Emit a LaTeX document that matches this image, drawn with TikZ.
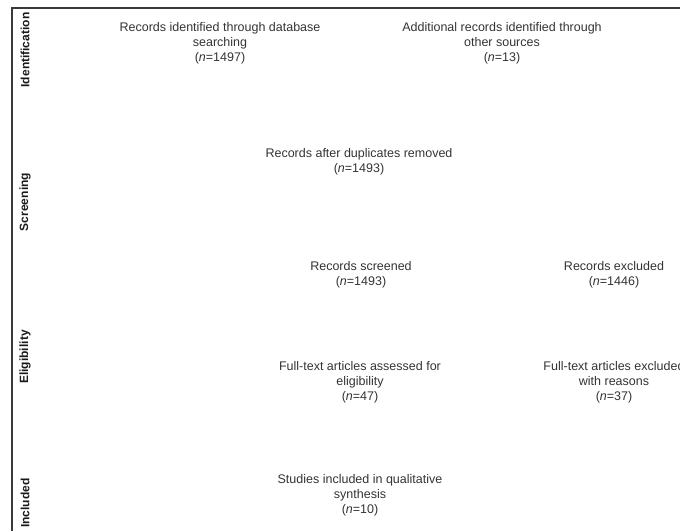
\documentclass[tikz,border=0pt]{standalone}
\usepackage{fontspec}
\setmainfont{Liberation Sans}
\usepackage{xcolor}
\usepackage{tikz}
\usetikzlibrary{positioning}
\definecolor{textgray}{HTML}{333333}
\definecolor{labelgray}{HTML}{1A1A1A}
\definecolor{framegray}{HTML}{3A3A3A}
\tikzset{
  % --- stage labels in the left margin ---
  phase/.style={rotate=90, inner sep=0pt, text=labelgray,
                font=\fontsize{12}{14}\selectfont\bfseries},
  % --- record counts (plain text, no boxes) ---
  record/.style={align=center, inner sep=0pt, text=textgray,
                 font=\fontsize{12.5}{15}\selectfont},
  borderline/.style={draw=framegray, line width=1.5pt},
}

\begin{document}
\begin{tikzpicture}[x=1pt, y=-1pt]
  \useasboundingbox (0,0) rectangle (680,531);

  % --- frame: top and left edges only ---
  \draw[borderline] (680,8) -- (12,8) -- (12,531);

  % --- stage labels ---
  \node[phase] (pid)  at (25,50)  {Identification};
  \node[phase] (pscr) at (25,202) {Screening};
  \node[phase] (pelg) at (25,357) {Eligibility};
  \node[phase] (pinc) at (25,503) {Included};

  % --- identification row ---
  \node[record] (dbsearch) at (220,43)
        {Records identified through database\\searching\\(\textit{n}=1497)};
  \node[record] (othersrc) at (502,43)
        {Additional records identified through\\other sources\\(\textit{n}=13)};

  % --- centre column ---
  \node[record] (dedup)    at (359,162) {Records after duplicates removed\\(\textit{n}=1493)};
  \node[record] (screened) at (361,275) {Records screened\\(\textit{n}=1493)};
  \node[record] (fulltext) at (360,382)
        {Full-text articles assessed for\\eligibility\\(\textit{n}=47)};
  \node[record] (included) at (360,495)
        {Studies included in qualitative\\synthesis\\(\textit{n}=10)};

  % --- right column: exclusions ---
  \node[record] (excluded) at (614,275) {Records excluded\\(\textit{n}=1446)};
  \node[record] (ftexcl)   at (614,382)
        {Full-text articles excluded\\with reasons\\(\textit{n}=37)};
\end{tikzpicture}
\end{document}
